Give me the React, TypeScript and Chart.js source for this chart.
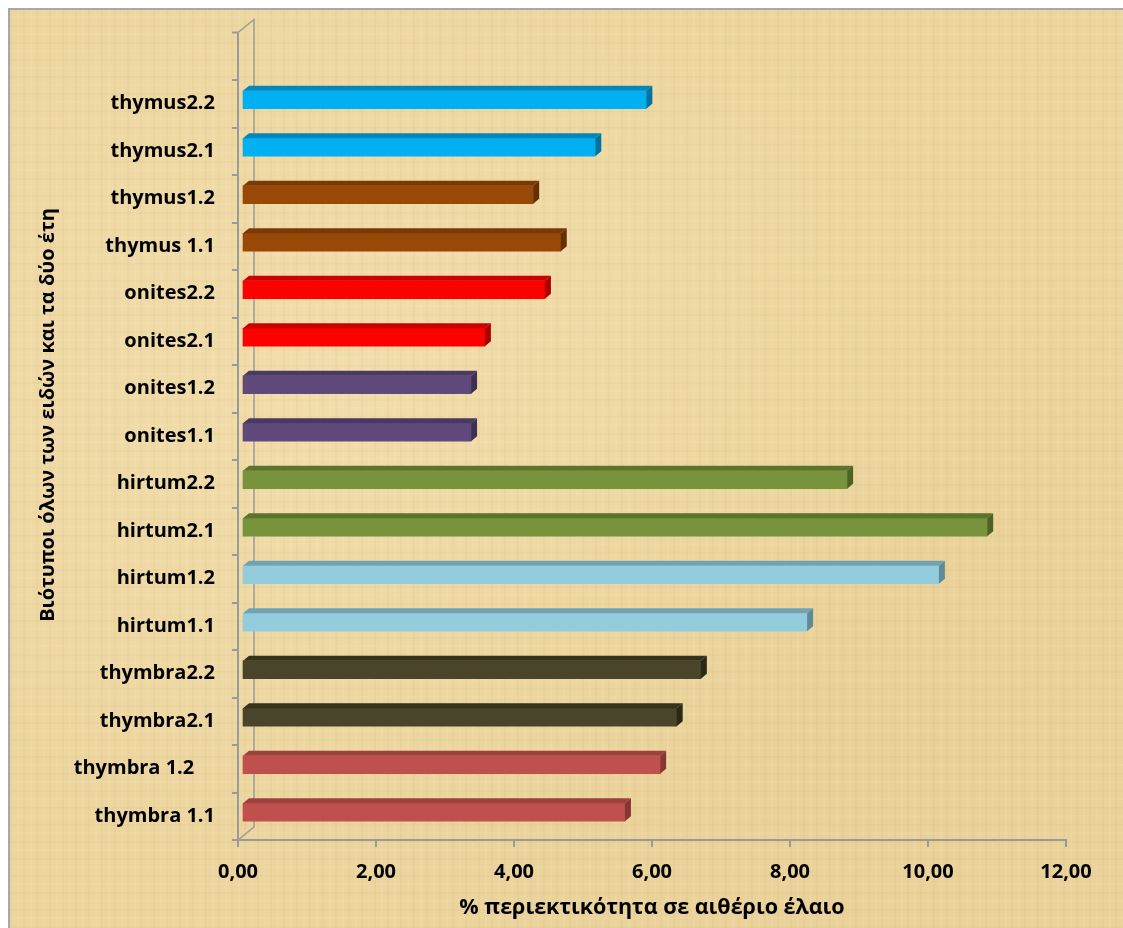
import React, { useEffect, useRef } from "react";
import { Chart, registerables } from "chart.js";

Chart.register(...registerables);

// Biotypes, listed from the bottom of the chart upwards
const biotypes = [
  "thymbra 1.1",
  "thymbra 1.2    ",
  "thymbra2.1",
  "thymbra2.2",
  "hirtum1.1",
  "hirtum1.2",
  "hirtum2.1",
  "hirtum2.2",
  "onites1.1",
  "onites1.2",
  "onites2.1",
  "onites2.2",
  "thymus 1.1",
  "thymus1.2",
  "thymus2.1",
  "thymus2.2",
];

// Essential oil content (%)
const oilContent = [
  5.55, 6.06, 6.3, 6.65, 8.19, 10.1, 10.8, 8.77, 3.32, 3.32, 3.52, 4.39, 4.62,
  4.22, 5.12, 5.86,
];

const xTickStep = 2;
const xMax = 12;

// Face colours for each group of two biotypes: [front, top, side]
const groupShades: [string, string, string][] = [
  ["#C0504D", "#9E403E", "#873634"], // thymbra 1
  ["#4A452A", "#36321E", "#2B2817"], // thymbra 2
  ["#93CDDD", "#72A3B3", "#5E8A99"], // hirtum 1
  ["#77933C", "#5C732D", "#4E6226"], // hirtum 2
  ["#604A7B", "#4A3960", "#3E3052"], // onites 1
  ["#FF0000", "#CC0000", "#AA0000"], // onites 2
  ["#984807", "#7A3905", "#652F04"], // thymus 1
  ["#00B0F0", "#0088BC", "#0074A0"], // thymus 2
];

const shadeFor = (i: number) => groupShades[Math.floor(i / 2)];

const AXIS_GREY = "#9A9A9A";
const FONT = "'Open Sans', 'DejaVu Sans', sans-serif";
const DEPTH_X = 4;
const DEPTH_Y = -4;
const FACE_DX = 6;
const FACE_DY = -5;

const formatComma = (v: number) => v.toFixed(2).replace(".", ",");

const threeDPlugin = {
  id: "threeDBars",
  beforeDatasetsDraw(chart: any) {
    const { ctx, chartArea } = chart;
    const { left, top, bottom } = chartArea;
    const catH = (bottom - top) / biotypes.length;
    const wallTop = top - catH;
    ctx.save();
    ctx.strokeStyle = AXIS_GREY;
    ctx.lineWidth = 2;
    // extend the category axis one slot above the plot
    ctx.beginPath();
    ctx.moveTo(left, top);
    ctx.lineTo(left, wallTop);
    ctx.moveTo(left - 6, wallTop);
    ctx.lineTo(left, wallTop);
    ctx.stroke();
    // back wall edge
    ctx.lineWidth = 1.5;
    ctx.beginPath();
    ctx.moveTo(left, wallTop);
    ctx.lineTo(left + 16, wallTop - 13);
    ctx.lineTo(left + 16, bottom - 13);
    ctx.lineTo(left, bottom);
    ctx.stroke();
    ctx.restore();
    // bars sit slightly behind the front plane
    ctx.save();
    ctx.translate(DEPTH_X, DEPTH_Y);
  },
  afterDatasetsDraw(chart: any) {
    const { ctx } = chart;
    const meta = chart.getDatasetMeta(0);
    meta.data.forEach((bar: any, i: number) => {
      const { x, y, base, height } = bar.getProps(["x", "y", "base", "height"], true);
      const t = y - height / 2;
      const b = y + height / 2;
      const [, topC, sideC] = shadeFor(i);
      ctx.fillStyle = topC;
      ctx.beginPath();
      ctx.moveTo(base, t);
      ctx.lineTo(base + FACE_DX, t + FACE_DY);
      ctx.lineTo(x + FACE_DX, t + FACE_DY);
      ctx.lineTo(x, t);
      ctx.closePath();
      ctx.fill();
      ctx.fillStyle = sideC;
      ctx.beginPath();
      ctx.moveTo(x, t);
      ctx.lineTo(x + FACE_DX, t + FACE_DY);
      ctx.lineTo(x + FACE_DX, b + FACE_DY);
      ctx.lineTo(x, b);
      ctx.closePath();
      ctx.fill();
    });
    ctx.restore();
  },
  afterDraw(chart: any) {
    const { ctx } = chart;
    ctx.save();
    ctx.translate(38, 405);
    ctx.rotate(-Math.PI / 2);
    ctx.font = `bold 20px ${FONT}`;
    ctx.fillStyle = "#000";
    ctx.textAlign = "center";
    ctx.textBaseline = "middle";
    ctx.fillText("Βιότυποι όλων των ειδών και τα δύο έτη", 0, 0);
    ctx.restore();
  },
};

export default function App() {
  const canvasRef = useRef<HTMLCanvasElement | null>(null);

  useEffect(() => {
    if (!canvasRef.current) return;
    const chart = new Chart(canvasRef.current, {
      type: "bar",
      data: {
        labels: biotypes,
        datasets: [
          {
            data: oilContent,
            backgroundColor: oilContent.map((_, i) => shadeFor(i)[0]),
            borderWidth: 0,
            barThickness: 18,
          },
        ],
      },
      plugins: [threeDPlugin],
      options: {
        indexAxis: "y",
        responsive: false,
        animation: false,
        devicePixelRatio: 1,
        layout: { padding: { top: 70, right: 57, bottom: 0, left: 0 } },
        plugins: {
          legend: { display: false },
          tooltip: { enabled: false },
        },
        scales: {
          x: {
            min: 0,
            max: xMax,
            ticks: {
              stepSize: xTickStep,
              padding: 13,
              color: "#000",
              font: { family: FONT, size: 20, weight: "bold" },
              callback: (v: any) => formatComma(Number(v)),
            },
            grid: {
              drawOnChartArea: false,
              drawTicks: true,
              tickLength: 7,
              color: AXIS_GREY,
              lineWidth: 2,
            },
            border: { display: true, color: AXIS_GREY, width: 2 },
            title: {
              display: true,
              text: "% περιεκτικότητα σε αιθέριο έλαιο",
              color: "#000",
              font: { family: FONT, size: 21.5, weight: "bold" },
              padding: { top: 0, bottom: 7 },
            },
            afterFit: (s: any) => {
              s.height = 88;
            },
          },
          y: {
            reverse: true,
            ticks: {
              padding: 17,
              color: "#000",
              font: { family: FONT, size: 20, weight: "bold" },
              autoSkip: false,
            },
            grid: {
              drawOnChartArea: false,
              drawTicks: true,
              tickLength: 6,
              color: AXIS_GREY,
              lineWidth: 2,
            },
            border: { display: true, color: AXIS_GREY, width: 2 },
            afterFit: (s: any) => {
              s.width = 228;
            },
          },
        },
      },
    } as any);
    return () => chart.destroy();
  }, []);

  return (
    <div
      style={{
        position: "fixed",
        left: 8,
        top: 8,
        width: 1115,
        height: 920,
        boxSizing: "border-box",
        borderTop: "2px solid #A8A8A8",
        borderLeft: "2px solid #A8A8A8",
        backgroundColor: "#ECD59F",
        backgroundImage: [
          "repeating-linear-gradient(90deg, rgba(150,110,40,0.04) 0px, rgba(150,110,40,0.04) 2px, rgba(0,0,0,0) 2px, rgba(0,0,0,0) 7px, rgba(255,246,215,0.08) 7px, rgba(255,246,215,0.08) 9px, rgba(0,0,0,0) 9px, rgba(0,0,0,0) 13px)",
          "repeating-linear-gradient(0deg, rgba(150,110,40,0.035) 0px, rgba(150,110,40,0.035) 2px, rgba(0,0,0,0) 2px, rgba(0,0,0,0) 9px, rgba(255,246,215,0.07) 9px, rgba(255,246,215,0.07) 11px, rgba(0,0,0,0) 11px, rgba(0,0,0,0) 17px)",
          "radial-gradient(ellipse at 30% 40%, rgba(255,240,200,0.3), rgba(255,240,200,0) 60%)",
          "radial-gradient(ellipse at 80% 80%, rgba(220,190,120,0.2), rgba(220,190,120,0) 55%)",
        ].join(", "),
        overflow: "hidden",
      }}
    >
      <canvas ref={canvasRef} width={1113} height={918} style={{ display: "block" }} />
    </div>
  );
}
